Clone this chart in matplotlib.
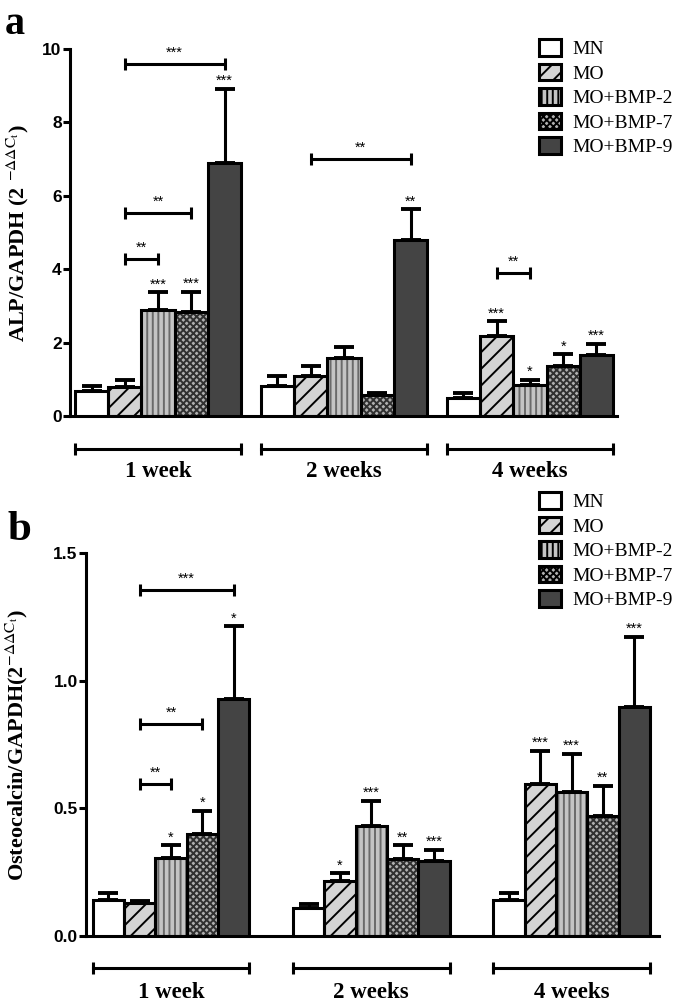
import matplotlib
matplotlib.use('Agg')
import matplotlib.pyplot as plt
from matplotlib.patches import Patch
import matplotlib.transforms as mtransforms
import numpy as np

# ---------------- data ----------------
groups = ['1 week', '2 weeks', '4 weeks']
series = ['MN', 'MO', 'MO+BMP-2', 'MO+BMP-7', 'MO+BMP-9']

# ALP / GAPDH  (mean per week, upper error per week)
alp_mn = [0.68, 0.82, 0.50]
alp_mo = [0.79, 1.10, 2.18]
alp_bmp2 = [2.90, 1.57, 0.85]
alp_bmp7 = [2.83, 0.57, 1.35]
alp_bmp9 = [6.90, 4.80, 1.66]
alp_err_mn = [0.13, 0.28, 0.12]
alp_err_mo = [0.19, 0.27, 0.40]
alp_err_bmp2 = [0.47, 0.32, 0.14]
alp_err_bmp7 = [0.55, 0.07, 0.33]
alp_err_bmp9 = [2.02, 0.84, 0.31]
alp_stars_mn = ['', '', '']
alp_stars_mo = ['', '', '***']
alp_stars_bmp2 = ['***', '', '*']
alp_stars_bmp7 = ['***', '', '*']
alp_stars_bmp9 = ['***', '**', '***']
# brackets: (group, from series, to series, height, label)
alp_brackets = [(0, 1, 4, 9.58, '***'), (0, 1, 3, 5.54, '**'), (0, 1, 2, 4.28, '**'),
                (1, 1, 4, 7.01, '**'), (2, 1, 2, 3.90, '**')]
alp_yticks = [0, 2, 4, 6, 8, 10]

# Osteocalcin / GAPDH
ost_mn = [0.141, 0.108, 0.141]
ost_mo = [0.128, 0.215, 0.595]
ost_bmp2 = [0.304, 0.432, 0.563]
ost_bmp7 = [0.400, 0.300, 0.470]
ost_bmp9 = [0.927, 0.295, 0.895]
ost_err_mn = [0.026, 0.019, 0.026]
ost_err_mo = [0.010, 0.030, 0.131]
ost_err_bmp2 = [0.051, 0.097, 0.150]
ost_err_bmp7 = [0.090, 0.055, 0.119]
ost_err_bmp9 = [0.287, 0.042, 0.277]
ost_stars_mn = ['', '', '']
ost_stars_mo = ['', '*', '***']
ost_stars_bmp2 = ['*', '***', '***']
ost_stars_bmp7 = ['*', '**', '**']
ost_stars_bmp9 = ['*', '***', '***']
ost_brackets = [(0, 1, 4, 1.357, '***'), (0, 1, 3, 0.829, '**'), (0, 1, 2, 0.594, '**')]
ost_yticks = [0.0, 0.5, 1.0, 1.5]

# ---------------- style ----------------
SERIF = 'Liberation Serif'
SANS = 'Liberation Sans'
LW = 2.2
plt.rcParams['mathtext.fontset'] = 'stix'
plt.rcParams['hatch.linewidth'] = 1.4

styles = [
    dict(facecolor='white', hatch=None, hatchcolor=None),
    dict(facecolor='#d4d4d4', hatch='//', hatchcolor='black'),
    dict(facecolor='#c4c4c4', hatch='|||', hatchcolor='#6a6a6a'),
    dict(facecolor='#b0b0b0', hatch='xxxxx', hatchcolor='#303030'),
    dict(facecolor='#444444', hatch=None, hatchcolor=None),
]

fig = plt.figure(figsize=(6.75, 10.01), dpi=100)


def draw_panel(ax, means, errs, stars, brackets, yticks, ylim, spacing, xlim,
               ylabel, ylabel_x, grp_line_y, grp_text_y):
    ng = len(groups)
    base = np.arange(ng) * spacing
    for j in range(len(series)):
        x = base + j
        st = styles[j]
        if st['hatch']:
            ax.bar(x, means[j], width=1.0, color=st['facecolor'], hatch=st['hatch'],
                   edgecolor=st['hatchcolor'], linewidth=0, zorder=2)
            ax.bar(x, means[j], width=1.0, facecolor='none', edgecolor='black',
                   linewidth=LW, zorder=3)
        else:
            ax.bar(x, means[j], width=1.0, color=st['facecolor'], edgecolor='black',
                   linewidth=LW, zorder=3)
        ax.errorbar(x, means[j], yerr=[np.zeros(ng), errs[j]], fmt='none', ecolor='black',
                    elinewidth=LW, capsize=7, capthick=LW + 0.6, zorder=1)
        for g in range(ng):
            if stars[j][g]:
                ax.annotate(stars[j][g], (x[g], means[j][g] + errs[j][g]), xytext=(0, 0.5),
                            textcoords='offset points', ha='center', va='bottom',
                            fontsize=10.5, family=SANS, zorder=4)
    for g, a, b, h, lab in brackets:
        x1, x2 = base[g] + a, base[g] + b
        ax.plot([x1, x2], [h, h], color='black', lw=LW, marker='|', markersize=8,
                markeredgewidth=LW, solid_capstyle='butt')
        ax.annotate(lab, ((x1 + x2) / 2, h), xytext=(0, 3), textcoords='offset points',
                    ha='center', va='bottom', fontsize=10.5, family=SANS)
    trans = mtransforms.blended_transform_factory(ax.transData, ax.transAxes)
    for g in range(ng):
        x1, x2 = base[g] - 0.5, base[g] + len(series) - 0.5
        ax.plot([x1, x2], [grp_line_y, grp_line_y], transform=trans, clip_on=False,
                color='black', lw=LW, marker='|', markersize=8, markeredgewidth=LW)
        ax.text((x1 + x2) / 2, grp_text_y, groups[g], transform=trans, ha='center',
                va='baseline', fontsize=16.5, family=SERIF, fontweight='bold')
    ax.set_xlim(*xlim)
    ax.set_ylim(*ylim)
    ax.set_xticks([])
    ax.set_yticks(yticks)
    ax.set_yticklabels([f'{t:g}' if isinstance(t, int) else f'{t:.1f}' for t in yticks],
                       family=SANS, fontweight='bold', fontsize=12.5)
    ax.tick_params(axis='y', direction='out', length=5, width=LW, pad=1)
    for s in ['top', 'right']:
        ax.spines[s].set_visible(False)
    for s in ['left', 'bottom']:
        ax.spines[s].set_linewidth(LW)
    ax.set_ylabel(ylabel, family=SERIF, fontweight='bold', fontsize=16)
    ax.yaxis.set_label_coords(ylabel_x, 0.5)

    handles = []
    for j in range(len(series)):
        st = styles[j]
        handles.append(Patch(facecolor=st['facecolor'], hatch=st['hatch'],
                             edgecolor='black', linewidth=LW, label=series[j]))
    return handles


LEG = dict(loc='upper left', frameon=False, prop=dict(family=SERIF, size=14),
           handlelength=1.13, handleheight=0.93, handletextpad=0.57, labelspacing=0.29,
           borderpad=0, borderaxespad=0)

# Panel a
ax1 = fig.add_axes([70 / 675, 1 - 416 / 1001, (617 - 70) / 675, (416 - 49) / 1001])
h = draw_panel(ax1,
               [alp_mn, alp_mo, alp_bmp2, alp_bmp7, alp_bmp9],
               [alp_err_mn, alp_err_mo, alp_err_bmp2, alp_err_bmp7, alp_err_bmp9],
               [alp_stars_mn, alp_stars_mo, alp_stars_bmp2, alp_stars_bmp7, alp_stars_bmp9],
               alp_brackets, alp_yticks, (0, 10), 5.59, (-0.65, 15.8),
               r'ALP/GAPDH (2 $^{-\Delta\Delta \mathrm{C}_\mathrm{t}}$)', -0.071, -0.090, -0.166)
ax1.legend(handles=h, bbox_to_anchor=(539 / 675, 1 - 39 / 1001),
           bbox_transform=fig.transFigure, **LEG)

# Panel b
ax2 = fig.add_axes([86 / 675, 1 - 936 / 1001, (659 - 86) / 675, (936 - 553) / 1001])
h = draw_panel(ax2,
               [ost_mn, ost_mo, ost_bmp2, ost_bmp7, ost_bmp9],
               [ost_err_mn, ost_err_mo, ost_err_bmp2, ost_err_bmp7, ost_err_bmp9],
               [ost_stars_mn, ost_stars_mo, ost_stars_bmp2, ost_stars_bmp7, ost_stars_bmp9],
               ost_brackets, ost_yticks, (0, 1.5), 6.39, (-0.71, 17.57),
               r'Osteocalcin/GAPDH(2$^{-\Delta\Delta \mathrm{C}_\mathrm{t}}$)', -0.098, -0.083, -0.162)
ax2.legend(handles=h, bbox_to_anchor=(539 / 675, 1 - 492 / 1001),
           bbox_transform=fig.transFigure, **LEG)

fig.text(5 / 675, 1 - 34 / 1001, 'a', family=SERIF, fontweight='bold', fontsize=29,
         va='baseline', ha='left')
fig.text(7 / 675, 1 - 540 / 1001, 'b', family=SERIF, fontweight='bold', fontsize=31,
         va='baseline', ha='left')

fig.savefig('out.png', dpi=100)
